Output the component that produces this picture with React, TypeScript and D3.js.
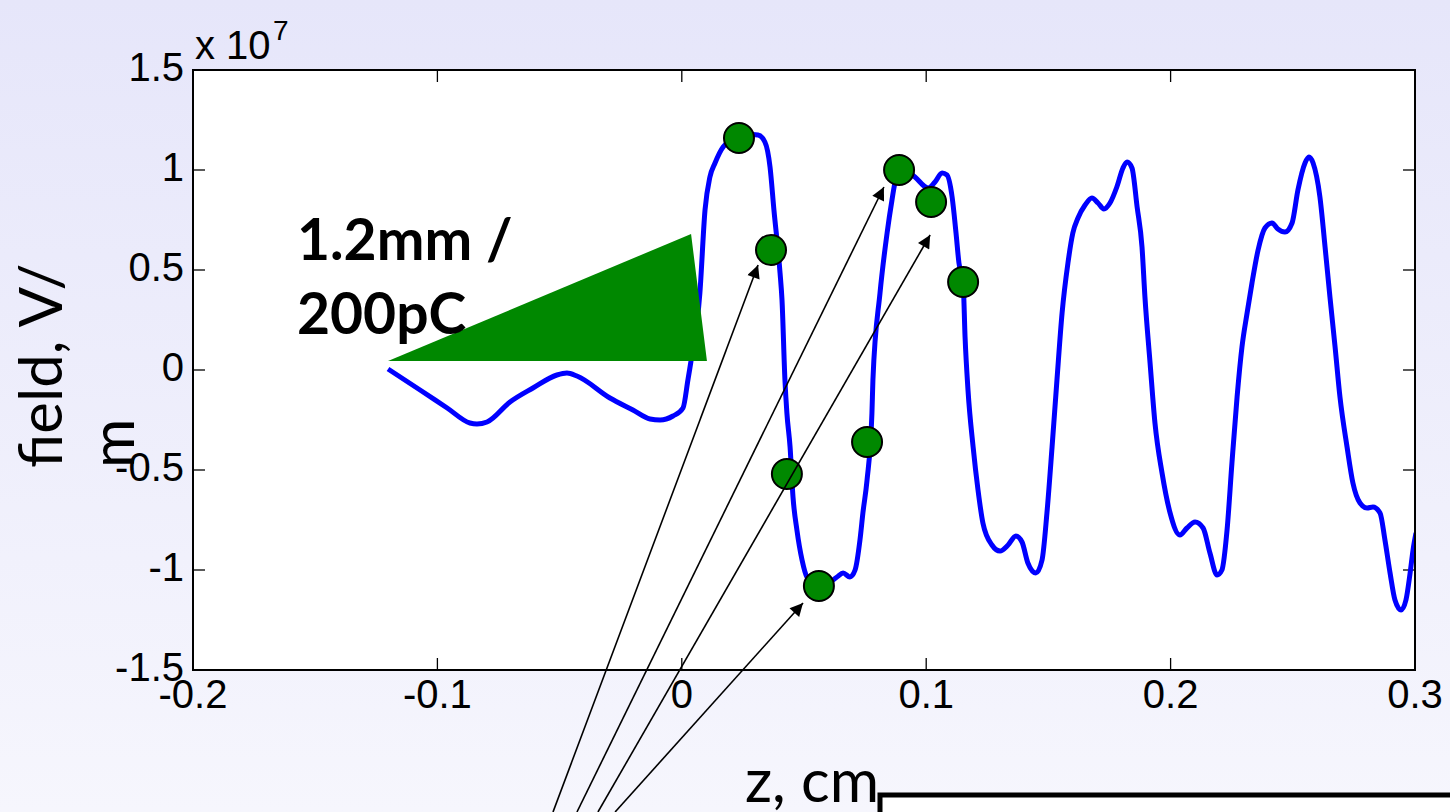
import React from "react";
import * as d3 from "d3";

// ---- data (z in cm, field in units of 1e7 V/m) ----
const zValues = [
  -0.1202, -0.1071, -0.096, -0.0867, -0.0838, -0.0797, -0.0703, -0.0609, -0.0511, -0.047, -0.0429,
  -0.0294, -0.02, -0.013, -0.0089, -0.0036, 0.0005, 0.0025, 0.0037, 0.0074, 0.0095, 0.0115, 0.0136,
  0.0169, 0.025, 0.0312, 0.034, 0.0361, 0.0377, 0.0402, 0.041, 0.0422, 0.043, 0.0443, 0.0455, 0.0471,
  0.0492, 0.0512, 0.0565, 0.0635, 0.066, 0.0688, 0.0709, 0.0729, 0.0741, 0.0758, 0.0778, 0.0782,
  0.0811, 0.084, 0.086, 0.0872, 0.0901, 0.0954, 0.1008, 0.1036, 0.1065, 0.1085, 0.1106, 0.1122,
  0.1134, 0.1151, 0.1159, 0.1171, 0.1192, 0.1212, 0.1232, 0.1269, 0.1302, 0.1335, 0.1367, 0.1392,
  0.1416, 0.1449, 0.1474, 0.1494, 0.1515, 0.1535, 0.1556, 0.158, 0.16, 0.1621, 0.165, 0.1678, 0.1703,
  0.1727, 0.1752, 0.178, 0.1805, 0.1822, 0.1842, 0.1863, 0.1883, 0.1895, 0.1916, 0.1936, 0.1965,
  0.1998, 0.2038, 0.2067, 0.21, 0.2133, 0.2161, 0.219, 0.221, 0.2231, 0.2251, 0.2272, 0.2292, 0.2313,
  0.2333, 0.2358, 0.2386, 0.2415, 0.2439, 0.2468, 0.2497, 0.2521, 0.255, 0.2566, 0.2583, 0.2611,
  0.2632, 0.2652, 0.2673, 0.2693, 0.2722, 0.2746, 0.2775, 0.2804, 0.2828, 0.2857, 0.2877, 0.2898,
  0.2918, 0.2943, 0.2963, 0.298, 0.2992, 0.3004,
];
const fieldValues = [
  0.005, -0.1, -0.19, -0.265, -0.27, -0.26, -0.16, -0.09, -0.025, -0.015, -0.03,
  -0.14, -0.2, -0.245, -0.25, -0.23, -0.19, -0.05, 0.04, 0.385, 0.8, 0.965, 1.035,
  1.115, 1.18, 1.175, 1.14, 1.015, 0.8, 0.485, 0.35, -0.05, -0.215, -0.385, -0.635, -0.8,
  -0.95, -1.035, -1.09, -1.035, -1.015, -1.035, -1.0, -0.85, -0.715, -0.55, -0.215, -0.05,
  0.385, 0.685, 0.85, 0.935, 1.01, 0.965, 0.91, 0.94, 0.985, 0.975, 0.865, 0.685,
  0.535, 0.44, 0.165, -0.1, -0.385, -0.6, -0.765, -0.875, -0.905, -0.875, -0.83, -0.86,
  -0.965, -1.015, -0.95, -0.715, -0.385, -0.05, 0.285, 0.535, 0.685, 0.76, 0.825, 0.86, 0.835,
  0.805, 0.835, 0.915, 1.01, 1.04, 1.01, 0.815, 0.615, 0.365, 0.035, -0.265, -0.515,
  -0.715, -0.825, -0.79, -0.76, -0.79, -0.915, -1.025, -1.0, -0.8, -0.465, -0.135, 0.115, 0.285,
  0.435, 0.6, 0.71, 0.735, 0.705, 0.69, 0.735, 0.9, 1.035, 1.065, 1.035, 0.865,
  0.615, 0.365, 0.115, -0.135, -0.385, -0.565, -0.665, -0.69, -0.685, -0.715, -0.85, -1.015,
  -1.15, -1.2, -1.15, -1.015, -0.9, -0.815,
];

// marked points on the curve
const markerZ = [0.0234, 0.0365, 0.0889, 0.102, 0.1151, 0.043, 0.0758, 0.0561];
const markerField = [1.16, 0.6, 1.0, 0.84, 0.44, -0.52, -0.36, -1.08];

// arrows (start below the axes -> tip)
const arrowStartZ = [-0.0527, -0.0429, -0.0343, -0.0273];
const arrowStartField = [-2.21, -2.21, -2.21, -2.21];
const arrowTipZ = [0.0312, 0.0827, 0.1016, 0.0496];
const arrowTipField = [0.525, 0.915, 0.675, -1.165];

// bunch triangle
const triZ = [-0.1202, 0.0038, 0.0103];
const triField = [0.045, 0.68, 0.045];

const xTicks = [-0.2, -0.1, 0, 0.1, 0.2, 0.3];
const xTickLabels = ["-0.2", "-0.1", "0", "0.1", "0.2", "0.3"];
const yTicks = [1.5, 1, 0.5, 0, -0.5, -1, -1.5];
const yTickLabels = ["1.5", "1", "0.5", "0", "-0.5", "-1", "-1.5"];

const W = 1450;
const H = 812;
const L = 193, R = 1415, T = 70, B = 670;

export default function App() {
  const x = d3.scaleLinear().domain([-0.2, 0.3]).range([L, R]);
  const y = d3.scaleLinear().domain([-1.5, 1.5]).range([B, T]);
  const pts: [number, number][] = zValues.map((z, i) => [z, fieldValues[i]]);
  const line = d3
    .line<[number, number]>()
    .x((d) => x(d[0]))
    .y((d) => y(d[1]))
    .curve(d3.curveMonotoneX);
  const tri = triZ.map((z, i) => `${x(z)},${y(triField[i])}`).join(" ");
  const tick = 12;
  const axisFont = "'Liberation Sans', Arial, Helvetica, sans-serif";
  const textFont = "Lato, 'Open Sans', sans-serif";

  return (
    <div style={{ position: "fixed", left: 0, top: 0, width: W, height: H }}>
      <svg width={W} height={H} style={{ display: "block" }}>
        <defs>
          <linearGradient id="bg" x1="0" y1="0" x2="0" y2="1">
            <stop offset="0" stopColor="#e6e6fa" />
            <stop offset="1" stopColor="#f6f6fd" />
          </linearGradient>
          <clipPath id="plotclip">
            <rect x={L} y={T} width={R - L} height={B - T} />
          </clipPath>
          <marker id="ah" viewBox="0 0 10 10" refX="10" refY="5" markerWidth="18" markerHeight="13" markerUnits="userSpaceOnUse" orient="auto">
            <path d="M0,0 L10,5 L0,10 z" fill="#000" />
          </marker>
        </defs>
        <rect x={0} y={0} width={W} height={H} fill="url(#bg)" />
        <rect x={L} y={T} width={R - L} height={B - T} fill="#fff" />

        {/* ticks */}
        {xTicks.map((t) => (
          <g key={"xt" + t} stroke="#000" strokeWidth={1.3}>
            <line x1={x(t)} x2={x(t)} y1={B} y2={B - tick} />
            <line x1={x(t)} x2={x(t)} y1={T} y2={T + tick} />
          </g>
        ))}
        {yTicks.map((t) => (
          <g key={"yt" + t} stroke="#000" strokeWidth={1.3}>
            <line x1={L} x2={L + tick} y1={y(t)} y2={y(t)} />
            <line x1={R} x2={R - tick} y1={y(t)} y2={y(t)} />
          </g>
        ))}

        {/* curve */}
        <path d={line(pts) || ""} fill="none" stroke="#0000ff" strokeWidth={5} strokeLinejoin="round" clipPath="url(#plotclip)" />

        <rect x={L} y={T} width={R - L} height={B - T} fill="none" stroke="#000" strokeWidth={2} />

        {/* tick labels */}
        {xTicks.map((t, i) => (
          <text key={"xl" + t} x={x(t)} y={B + 38} textAnchor="middle" fontFamily={axisFont} fontSize={40} fill="#000">
            {xTickLabels[i]}
          </text>
        ))}
        {yTicks.map((t, i) => (
          <text key={"yl" + t} x={L - 9} y={y(t) + 11} textAnchor="end" fontFamily={axisFont} fontSize={40} fill="#000">
            {yTickLabels[i]}
          </text>
        ))}
        <text x={195} y={59} fontFamily={axisFont} fontSize={40} fill="#000">x 10</text>
        <text x={273} y={40} fontFamily={axisFont} fontSize={28} fill="#000">7</text>

        {/* triangle */}
        <polygon points={tri} fill="#008800" />

        {/* markers */}
        {markerZ.map((z, i) => (
          <circle key={"m" + i} cx={x(z)} cy={y(markerField[i])} r={15} fill="#008800" stroke="#000" strokeWidth={2} />
        ))}

        {/* arrows */}
        {arrowStartZ.map((z, i) => (
          <line
            key={"a" + i}
            x1={x(z)}
            y1={y(arrowStartField[i])}
            x2={x(arrowTipZ[i])}
            y2={y(arrowTipField[i])}
            stroke="#000"
            strokeWidth={1.6}
            markerEnd="url(#ah)"
          />
        ))}

        {/* annotation text */}
        <text x={297} y={260} fontFamily={textFont} fontWeight={700} fontSize={57} fill="#000">1.2mm /</text>
        <text x={297} y={334} fontFamily={textFont} fontWeight={700} fontSize={57} fill="#000">200pC</text>

        {/* axis labels */}
        <text transform="translate(62,468) rotate(-90)" fontFamily={textFont} fontSize={60} fill="#000">field, V/</text>
        <text transform="translate(134,468) rotate(-90)" fontFamily={textFont} fontSize={60} fill="#000">m</text>
        <text x={745} y={802} fontFamily={textFont} fontSize={60} fill="#000">z, cm</text>

        {/* box at bottom right */}
        <rect x={880} y={795} width={700} height={200} fill="#fff" stroke="#000" strokeWidth={5} />
      </svg>
    </div>
  );
}
